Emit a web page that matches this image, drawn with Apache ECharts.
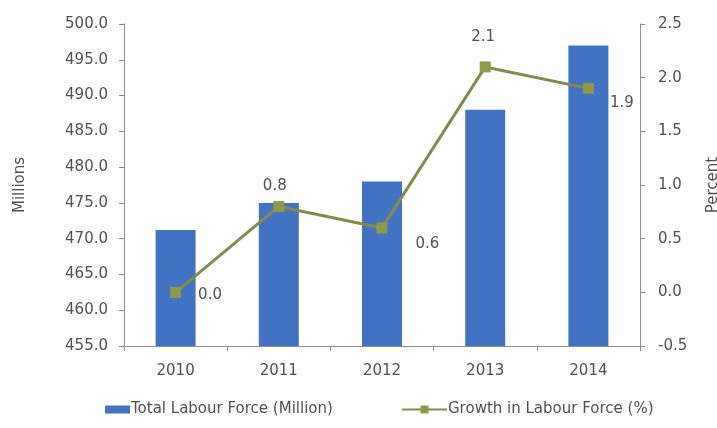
<!DOCTYPE html>
<html>
<head>
<meta charset="utf-8">
<script src="https://cdn.jsdelivr.net/npm/echarts@6/dist/echarts.min.js"></script>
<style>
  html, body { margin: 0; padding: 0; background: #ffffff; }
  #chart { width: 717px; height: 428px; }
</style>
</head>
<body>
<div id="chart"></div>
<script>
// Labour force size and its annual growth
const years = ['2010', '2011', '2012', '2013', '2014'];
const labourForce = [471.2, 475.0, 478.0, 488.0, 497.0];
const growthPct = [0.0, 0.8, 0.6, 2.1, 1.9];

// where each growth value label sits next to its marker
const growthLabelStyle = [
  { position: 'right', offset: [17, 3] },
  { position: 'top', offset: [-4, -7] },
  { position: 'right', offset: [28, 16] },
  { position: 'top', offset: [-2, -17] },
  { position: 'right', offset: [16, 15] }
];

const textColor = '#505050';
const axisColor = '#8c8c8c';
const fontFamily = '"DejaVu Sans", "Open Sans", sans-serif';
const fontSize = 15;

const chart = echarts.init(document.getElementById('chart'));

chart.setOption({
  animation: false,
  backgroundColor: '#ffffff',
  textStyle: { fontFamily: fontFamily, color: textColor },
  grid: { left: 124, right: 77, top: 24, bottom: 82, containLabel: false, outerBoundsMode: 'none' },
  legend: [
    {
      left: 100,
      top: 397,
      itemWidth: 25,
      itemHeight: 8,
      itemGap: 2,
      textStyle: { fontSize: fontSize, color: textColor, fontFamily: fontFamily, padding: [0, 0, 0, -4] },
      data: [{ name: 'Total Labour Force (Million)', icon: 'rect' }]
    },
    {
      left: 396,
      top: 397,
      itemWidth: 45,
      itemHeight: 10,
      textStyle: { fontSize: fontSize, color: textColor, fontFamily: fontFamily, padding: [0, 0, 0, -4] },
      data: [{ name: 'Growth in Labour Force (%)' }]
    }
  ],
  xAxis: {
    type: 'category',
    data: years,
    axisLine: { onZero: false, lineStyle: { color: axisColor } },
    axisTick: { show: true, alignWithLabel: false, length: 5, lineStyle: { color: axisColor } },
    axisLabel: { fontSize: fontSize, color: textColor, margin: 18 }
  },
  yAxis: [
    {
      type: 'value',
      min: 455,
      max: 500,
      interval: 5,
      name: 'Millions',
      nameLocation: 'middle',
      nameRotate: 90,
      nameGap: 96,
      nameTextStyle: { fontSize: fontSize, color: textColor },
      axisLine: { show: true, lineStyle: { color: axisColor } },
      axisTick: { show: true, length: 5, lineStyle: { color: axisColor } },
      splitLine: { show: false },
      axisLabel: { fontSize: fontSize, color: textColor, margin: 16, formatter: v => v.toFixed(1) }
    },
    {
      type: 'value',
      min: -0.5,
      max: 2.5,
      interval: 0.5,
      position: 'right',
      name: 'Percent',
      nameLocation: 'middle',
      nameRotate: 90,
      nameGap: 66,
      nameTextStyle: { fontSize: fontSize, color: textColor },
      axisLine: { show: true, onZero: false, lineStyle: { color: axisColor } },
      axisTick: { show: true, length: 5, lineStyle: { color: axisColor } },
      splitLine: { show: false },
      axisLabel: { fontSize: fontSize, color: textColor, margin: 18, formatter: v => v.toFixed(1) }
    }
  ],
  series: [
    {
      name: 'Total Labour Force (Million)',
      type: 'bar',
      yAxisIndex: 0,
      data: labourForce,
      barWidth: 40,
      itemStyle: { color: '#4272c2' }
    },
    {
      name: 'Growth in Labour Force (%)',
      type: 'line',
      yAxisIndex: 1,
      z: 3,
      data: growthPct.map((v, i) => ({
        value: v,
        label: growthLabelStyle[i]
      })),
      symbol: 'rect',
      symbolSize: 11,
      lineStyle: { color: '#86894f', width: 3 },
      itemStyle: { color: '#8e9a4a' },
      label: {
        show: true,
        fontSize: fontSize,
        color: textColor,
        distance: 0,
        formatter: p => p.value.toFixed(1)
      }
    }
  ]
});
</script>
</body>
</html>
